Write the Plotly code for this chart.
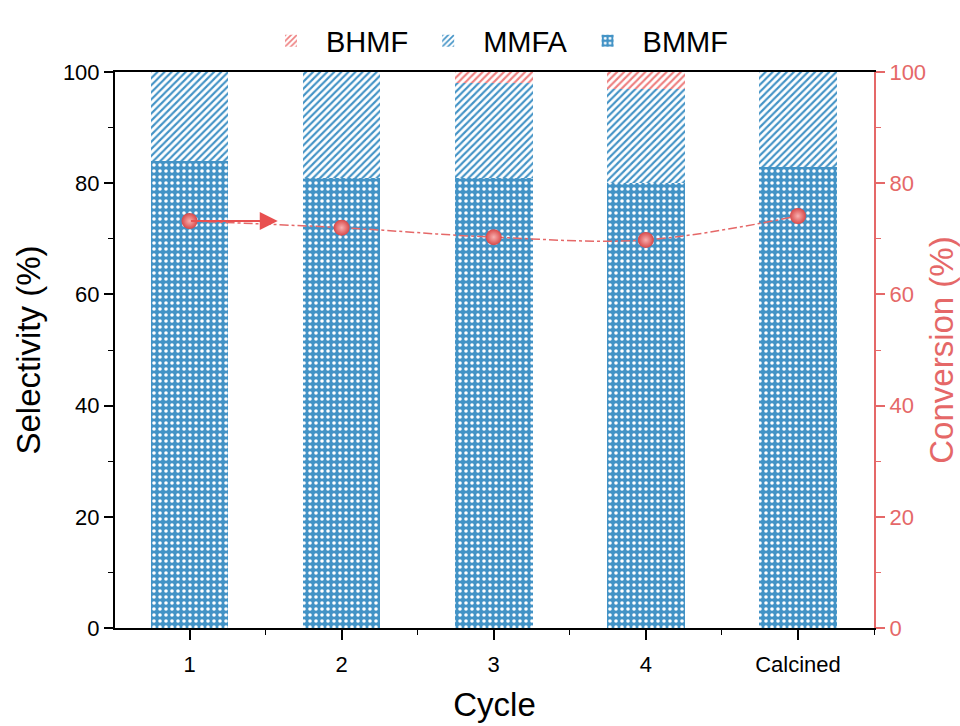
import plotly.graph_objects as go

categories = ["1", "2", "3", "4", "Calcined"]
bmmf = [84, 81, 81, 80, 83]
mmfa = [16, 19, 17, 17, 17]
bhmf = [0, 0, 2, 3, 0]
conversion = [73.2, 72.0, 70.3, 69.8, 74.1]

BLUE = "#4393c6"
RED = "#ee8080"
RED_AX = "#e56868"
FONT = "Liberation Sans"

xpos = list(range(len(categories)))

fig = go.Figure()
fig.add_trace(go.Bar(
    x=xpos, y=bmmf, name="BMMF", width=0.51,
    marker=dict(color=BLUE, line=dict(width=0),
                pattern=dict(shape=".", fgcolor="white", bgcolor=BLUE,
                             size=6, solidity=0.28, fillmode="replace")),
))
fig.add_trace(go.Bar(
    x=xpos, y=mmfa, name="MMFA", width=0.51,
    marker=dict(color="white", line=dict(width=0),
                pattern=dict(shape="/", fgcolor=BLUE, bgcolor="white",
                             size=5, solidity=0.42, fillmode="replace")),
))
fig.add_trace(go.Bar(
    x=xpos, y=bhmf, name="BHMF", width=0.51,
    marker=dict(color="white", line=dict(width=0),
                pattern=dict(shape="/", fgcolor=RED, bgcolor="white",
                             size=5, solidity=0.42, fillmode="replace")),
))
fig.add_trace(go.Scatter(
    x=xpos, y=conversion, yaxis="y2", mode="lines+markers", showlegend=False,
    line=dict(color=RED_AX, width=1.5, dash="dashdot", shape="spline"),
    marker=dict(size=16, color="#d84848",
                gradient=dict(type="radial", color="#f8b0b0"),
                line=dict(width=0)),
))

fig.add_annotation(
    x=0.58, y=conversion[0], xref="x", yref="y2",
    ax=xpos[0], ay=conversion[0], axref="x", ayref="y2",
    showarrow=True, arrowhead=2, arrowsize=1.8, arrowwidth=2,
    arrowcolor="#e85050", text="",
)

fig.update_layout(
    width=960, height=726,
    margin=dict(l=115, r=86, t=72, b=98, autoexpand=False),
    plot_bgcolor="white", paper_bgcolor="white",
    barmode="stack", bargap=0.49,
    font=dict(family=FONT, color="black"),
    legend=dict(orientation="h", x=0.5, xanchor="center", y=1.01, yanchor="bottom",
                traceorder="reversed", font=dict(size=29, family=FONT),
                itemwidth=60, bgcolor="rgba(0,0,0,0)"),
    xaxis=dict(
        range=[-0.49, 4.5], tickmode="array", tickvals=xpos, ticktext=categories,
        showline=True, linecolor="black", linewidth=2, mirror=True,
        ticks="outside", ticklen=10, tickwidth=1.5, tickcolor="black",
        ticklabelstandoff=6,
        minor=dict(tickmode="linear", tick0=-0.5, dtick=1, ticks="outside",
                   ticklen=5, tickwidth=1.2, tickcolor="black"),
        tickfont=dict(size=22, family=FONT),
        title=dict(text="Cycle", font=dict(size=33, family=FONT), standoff=16),
        showgrid=False, zeroline=False, automargin=False,
    ),
    yaxis=dict(
        range=[0, 100], dtick=20, showline=True, linecolor="black", linewidth=2,
        ticks="outside", ticklen=9, tickwidth=1.5, tickcolor="black",
        minor=dict(dtick=10, ticks="outside", ticklen=5, tickwidth=1.2, tickcolor="black"),
        tickfont=dict(size=22, family=FONT),
        title=dict(text="Selectivity (%)", font=dict(size=33, family=FONT), standoff=12),
        showgrid=False, zeroline=False, automargin=False,
    ),
    yaxis2=dict(
        range=[0, 100], dtick=20, overlaying="y", side="right",
        showline=True, linecolor=RED_AX, linewidth=2,
        ticks="outside", ticklen=9, tickwidth=1.5, tickcolor=RED_AX,
        minor=dict(dtick=10, ticks="outside", ticklen=5, tickwidth=1.2, tickcolor=RED_AX),
        tickfont=dict(size=22, family=FONT, color=RED_AX),
        title=dict(text="Conversion (%)", font=dict(size=33, family=FONT, color=RED_AX), standoff=12),
        showgrid=False, zeroline=False, automargin=False,
    ),
)

fig.write_html("out.html")
